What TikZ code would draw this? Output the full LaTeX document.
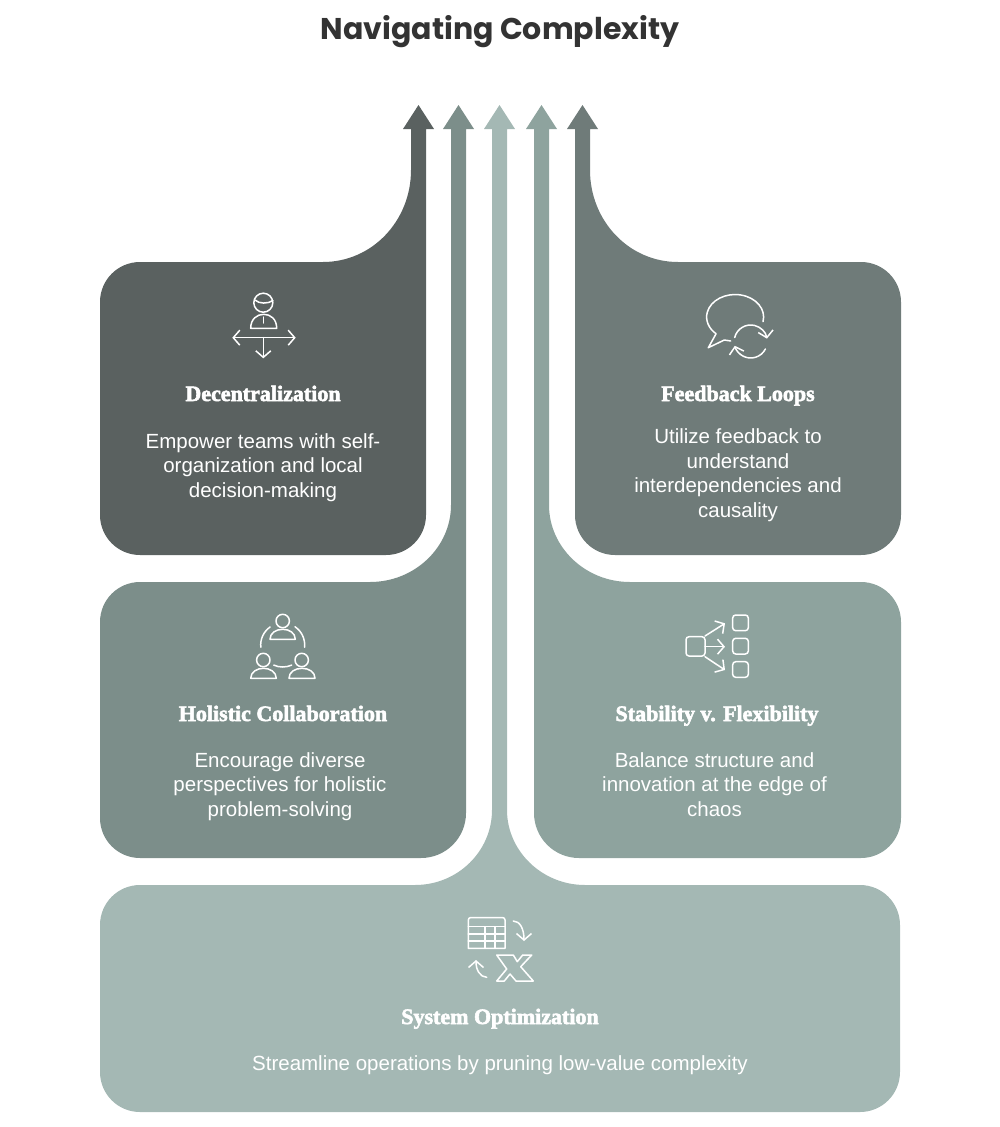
\documentclass[tikz,border=0pt]{standalone}
\usepackage{fontspec}
\setmainfont{Liberation Sans}
\newfontfamily\titlefont{Poppins}
\newfontfamily\headfont{Liberation Serif}[FakeBold=2.6]
\usetikzlibrary{arrows.meta}
\definecolor{decentral}{HTML}{5A6160}
\definecolor{holistic}{HTML}{7C8E8A}
\definecolor{optimize}{HTML}{A4B8B4}
\definecolor{stability}{HTML}{8EA39E}
\definecolor{feedback}{HTML}{6F7B79}
\tikzset{
  title/.style={font=\titlefont\bfseries\fontsize{30}{34}\selectfont, text=black!80, anchor=base},
  head/.style={font=\headfont\bfseries\fontsize{22}{26}\selectfont, text=white, anchor=base},
  body/.style={font=\fontsize{20.5}{24.5}\selectfont, text=white, align=center},
  icon/.style={draw=white, line width=1.5, line join=round, line cap=round},
  barb/.style={-{Straight Barb[length=6.5,width=15,line width=1.5]}}
}
% stem top and arrow head, #1 is the left edge of the stem
\newcommand{\stemtip}[1]{-- (#1,129) -- ++(-8,0) -- ++(15.5,-24) -- ++(15.5,24) -- ++(-8,0)}

\begin{document}
\begin{tikzpicture}[x=1pt,y=-1pt]
    \useasboundingbox (0,0) rectangle (1000,1127);

    \node[title] (title) at (500,39) {Navigating Complexity};

    % 1. Shapes of the five blocks
    \fill[decentral] (140,262) -- (323,262) .. controls (372,262) and (411,221) .. (411,170) \stemtip{411}
        -- (426,515) arc[start angle=0, end angle=90, radius=40] -- (140,555)
        arc[start angle=90, end angle=180, radius=40] -- (100,302)
        arc[start angle=180, end angle=270, radius=40] -- cycle;

    \fill[feedback] (861,262) -- (678,262) .. controls (629,262) and (590,221) .. (590,170) -- (590,129)
        -- ++(8,0) -- ++(-15.5,-24) -- ++(-15.5,24) -- ++(8,0)
        -- (575,515) arc[start angle=180, end angle=90, radius=40] -- (861,555)
        arc[start angle=90, end angle=0, radius=40] -- (901,302)
        arc[start angle=0, end angle=-90, radius=40] -- cycle;

    \fill[holistic] (140,582) -- (370,582) .. controls (415,582) and (451,547) .. (451,505) \stemtip{451}
        -- (466,813) arc[start angle=0, end angle=90, radius=45] -- (140,858)
        arc[start angle=90, end angle=180, radius=40] -- (100,622)
        arc[start angle=180, end angle=270, radius=40] -- cycle;

    \fill[stability] (861,582) -- (630,582) .. controls (585,582) and (549,547) .. (549,505) -- (549,129)
        -- ++(8,0) -- ++(-15.5,-24) -- ++(-15.5,24) -- ++(8,0)
        -- (534,813) arc[start angle=180, end angle=90, radius=45] -- (861,858)
        arc[start angle=90, end angle=0, radius=40] -- (901,622)
        arc[start angle=0, end angle=-90, radius=40] -- cycle;

    \fill[optimize] (140,885) -- (415,885) .. controls (458,885) and (492,851) .. (492,810) \stemtip{492}
        -- (507,810) .. controls (507,851) and (542,885) .. (585,885) -- (860,885)
        arc[start angle=270, end angle=360, radius=40] -- (900,1072)
        arc[start angle=0, end angle=90, radius=40] -- (140,1112)
        arc[start angle=90, end angle=180, radius=40] -- (100,925)
        arc[start angle=180, end angle=270, radius=40] -- cycle;

    % 2. Texts
    \node[head] (decentralhead) at (263,401) {Decentralization};
    \node[body] (decentraltext) at (263,467.5) {Empower teams with self-\\organization and local\\decision-making};

    \node[head] (feedbackhead) at (738,401) {Feedback Loops};
    \node[body] (feedbacktext) at (738,475) {Utilize feedback to\\understand\\interdependencies and\\causality};

    \node[head] (holistichead) at (283,721) {Holistic Collaboration};
    \node[body] (holistictext) at (280,786.5) {Encourage diverse\\perspectives for holistic\\problem-solving};

    \node[head] (stabilityhead) at (717,721) {Stability v. Flexibility};
    \node[body] (stabilitytext) at (714.5,784.5) {Balance structure and\\innovation at the edge of\\chaos};

    \node[head] (optimizehead) at (500,1024) {System Optimization};
    \node[body] (optimizetext) at (500,1065) {Streamline operations by pruning low-value complexity};

    % 3. Icons
    % Person with three arrows
    \draw[icon] (263.3,302.7) circle[radius=9.5];
    \draw[icon] (255,300) .. controls (259,304) and (268,304) .. (273,300.5);
    \draw[icon] (250.7,328.3) .. controls (250.7,319) and (257,314.3) .. (263.7,314.3)
        .. controls (270.5,314.3) and (276.7,319) .. (276.7,328.3) -- cycle;
    \draw[icon] (263.3,317) -- (263.3,323);
    \draw[icon, {Straight Barb[length=6.5,width=15,line width=1.5]}-{Straight Barb[length=6.5,width=15,line width=1.5]}] (232.3,337.7) -- (295.7,337.7);
    \draw[icon, barb] (263.3,337.7) -- (263.3,358.3);

    % Speech bubble with loop
    \draw[icon] (763,321.7) arc[start angle=12, end angle=-228, x radius=28.5, y radius=22.5]
        -- (708.3,347.7) -- (724.3,340) -- (730.7,341);
    \draw[icon, barb] (750.7,341.5) ++(194:16.5) arc[start angle=194, end angle=350, radius=16.5];
    \draw[icon, barb] (750.7,341.5) ++(27:16.5) arc[start angle=27, end angle=165, radius=16.5];

    % Three persons in a circle
    \draw[icon] (282.7,621) circle[radius=6.7];
    \draw[icon] (270,639.3) .. controls (270,633) and (276,629.3) .. (282.7,629.3)
        .. controls (289.5,629.3) and (295.3,633) .. (295.3,639.3) -- cycle;
    \draw[icon] (263.3,660) circle[radius=6.7];
    \draw[icon] (250.7,678.3) .. controls (250.7,672) and (257,668.3) .. (263.5,668.3)
        .. controls (270,668.3) and (276.3,672) .. (276.3,678.3) -- cycle;
    \draw[icon] (301.7,660) circle[radius=6.7];
    \draw[icon] (289,678.3) .. controls (289,672) and (295,668.3) .. (302,668.3)
        .. controls (309,668.3) and (315,672) .. (315,678.3) -- cycle;
    \draw[icon] (282.7,645) ++(174:22) arc[start angle=174, end angle=235, radius=22];
    \draw[icon] (282.7,645) ++(304:22) arc[start angle=304, end angle=366, radius=22];
    \draw[icon] (282.7,645) ++(114:22) arc[start angle=114, end angle=66, radius=22];

    % One box to three boxes
    \draw[icon, rounded corners=3] (686,636.7) rectangle (705,656);
    \draw[icon, rounded corners=3] (732.7,615) rectangle (748.3,630.7);
    \draw[icon, rounded corners=3] (732.7,638.3) rectangle (748.3,654);
    \draw[icon, rounded corners=3] (732.7,661.7) rectangle (748.3,677.3);
    \draw[icon, barb] (705,636) -- (725,623.3);
    \draw[icon, barb] (705,646.7) -- (725,646.7);
    \draw[icon, barb] (705,656.7) -- (725,670);

    % Table and pruning mark
    \draw[icon] (468.3,948.3) -- (468.3,920) arc[start angle=180, end angle=270, radius=2.5]
        -- (502.5,917.5) arc[start angle=270, end angle=360, radius=2.5] -- (505,948.3) -- cycle;
    \draw[icon] (468.3,926.7) -- (505,926.7);
    \draw[icon] (468.3,934) -- (505,934);
    \draw[icon] (468.3,941) -- (505,941);
    \draw[icon] (485,926.7) -- (485,948.3);
    \draw[icon] (495,926.7) -- (495,948.3);
    \draw[icon, barb] (513.3,921) .. controls (520,921) and (524,929) .. (524,941);
    \draw[icon, barb] (486.7,977.3) .. controls (480,977) and (476,970) .. (476,960);
    \draw[icon] (496.7,955) -- (513.3,955) -- (517.3,961.7) -- (522.7,955) -- (531.7,955) -- (520.7,966.7)
        -- (533.3,981) -- (516,981) -- (510,974) -- (504.3,981) -- (496.7,981) -- (506.7,969) -- cycle;

\end{tikzpicture}
\end{document}
